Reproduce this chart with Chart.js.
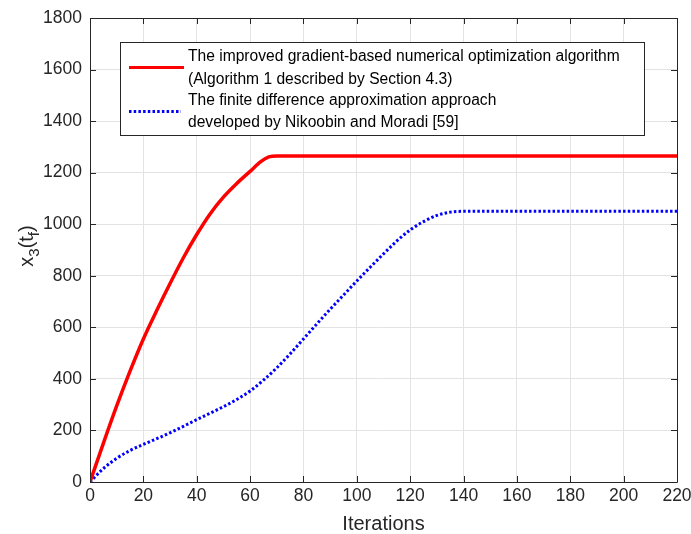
<!DOCTYPE html>
<html>
<head>
<meta charset="utf-8">
<script src="https://cdn.jsdelivr.net/npm/chart.js@4.4.1/dist/chart.umd.min.js"></script>
<style>
  body { margin: 0; background: #ffffff; }
  canvas { display: block; }
</style>
</head>
<body>
<canvas id="chart-1" width="691" height="534"></canvas>
<script>
// iterations and x3(tf) values
const gradIters = [0, 5, 10, 15, 20, 25, 30, 35, 40, 45, 50, 55, 60, 64, 67, 70, 100, 150, 220];
const gradValues = [0, 150, 295, 430, 555, 665, 770, 870, 960, 1040, 1105, 1158, 1205, 1243, 1261, 1265, 1265, 1265, 1265];

const fdIters = [0, 5, 10, 15, 20, 25, 30, 35, 40, 45, 50, 55, 60, 65, 70, 75, 80, 85, 90, 95, 100, 105, 110, 115, 120, 125, 130, 135, 140, 180, 220];
const fdValues = [0, 52, 92, 122, 146, 168, 191, 216, 242, 267, 292, 320, 353, 395, 443, 497, 555, 613, 670, 725, 780, 833, 885, 935, 978, 1010, 1034, 1047, 1050, 1050, 1050];

const xTicks = [0, 20, 40, 60, 80, 100, 120, 140, 160, 180, 200, 220];
const yTicks = [0, 200, 400, 600, 800, 1000, 1200, 1400, 1600, 1800];

const legendLines = [
  ["The improved gradient-based numerical optimization algorithm", "(Algorithm 1 described by Section 4.3)"],
  ["The finite difference approximation approach", "developed by Nikoobin and Moradi [59]"]
];

const axisColor = "#262626";
const fontFamily = "'Liberation Sans', Arial, sans-serif";

function toPoints(xs, ys) {
  return xs.map((x, i) => ({ x: x, y: ys[i] }));
}

// box around the axes, inward ticks, y label with subscripts, legend
const matlabBits = {
  id: "matlabBits",
  afterDraw(chart) {
    const ctx = chart.ctx;
    const a = chart.chartArea;
    const xs = chart.scales.x;
    const ys = chart.scales.y;
    ctx.save();
    ctx.strokeStyle = axisColor;
    ctx.lineWidth = 1;
    ctx.beginPath();
    ctx.rect(Math.round(a.left) + 0.5, Math.round(a.top) + 0.5, Math.round(a.right - a.left), Math.round(a.bottom - a.top));
    ctx.stroke();
    ctx.beginPath();
    xTicks.forEach(v => {
      const px = Math.round(xs.getPixelForValue(v)) + 0.5;
      ctx.moveTo(px, a.bottom); ctx.lineTo(px, a.bottom - 6);
      ctx.moveTo(px, a.top); ctx.lineTo(px, a.top + 6);
    });
    yTicks.forEach(v => {
      const py = Math.round(ys.getPixelForValue(v)) + 0.5;
      ctx.moveTo(a.left, py); ctx.lineTo(a.left + 6, py);
      ctx.moveTo(a.right, py); ctx.lineTo(a.right - 6, py);
    });
    ctx.stroke();

    // y label: x_3(t_f)
    ctx.translate(27, (a.top + a.bottom) / 2 - 4);
    ctx.rotate(-Math.PI / 2);
    ctx.fillStyle = axisColor;
    ctx.textBaseline = "alphabetic";
    const big = "20px " + fontFamily;
    const small = "15px " + fontFamily;
    const parts = [["x", big, 0], ["3", small, 6], ["(t", big, 0], ["f", small, 6], [")", big, 0]];
    let w = 0;
    parts.forEach(p => { ctx.font = p[1]; w += ctx.measureText(p[0]).width; });
    let cx = -w / 2;
    parts.forEach(p => {
      ctx.font = p[1];
      ctx.fillText(p[0], cx, 6 + p[2]);
      cx += ctx.measureText(p[0]).width;
    });
    ctx.restore();

    // legend
    ctx.save();
    const lx = 120.5, ly = 42.5, lw = 524, lh = 93;
    ctx.fillStyle = "#ffffff";
    ctx.fillRect(lx, ly, lw, lh);
    ctx.strokeStyle = axisColor;
    ctx.lineWidth = 1;
    ctx.strokeRect(lx, ly, lw, lh);
    ctx.font = "15.6px " + fontFamily;
    ctx.fillStyle = "#000000";
    ctx.textBaseline = "middle";
    const rows = [57, 80, 101, 123];
    ctx.fillText(legendLines[0][0], 188, rows[0]);
    ctx.fillText(legendLines[0][1], 188, rows[1]);
    ctx.fillText(legendLines[1][0], 188, rows[2]);
    ctx.fillText(legendLines[1][1], 188, rows[3]);
    ctx.lineWidth = 3;
    ctx.strokeStyle = "#ff0000";
    ctx.beginPath(); ctx.moveTo(129, 67.5); ctx.lineTo(184, 67.5); ctx.stroke();
    ctx.strokeStyle = "#0000ff";
    ctx.setLineDash([2.5, 2.2]);
    ctx.beginPath(); ctx.moveTo(129, 111.5); ctx.lineTo(181, 111.5); ctx.stroke();
    ctx.restore();
  }
};

new Chart("chart-1", {
  type: "line",
  data: {
    datasets: [{
      label: "gradient",
      data: toPoints(gradIters, gradValues),
      borderColor: "#ff0000",
      borderWidth: 3.5,
      pointRadius: 0,
      cubicInterpolationMode: "monotone",
      fill: false
    }, {
      label: "finite difference",
      data: toPoints(fdIters, fdValues),
      borderColor: "#0000ff",
      borderWidth: 3,
      borderDash: [2.5, 2.2],
      pointRadius: 0,
      cubicInterpolationMode: "monotone",
      fill: false
    }]
  },
  options: {
    responsive: false,
    animation: false,
    layout: { padding: { left: 0, right: 14, top: 18, bottom: -3 } },
    plugins: {
      legend: { display: false },
      tooltip: { enabled: false }
    },
    scales: {
      x: {
        type: "linear",
        min: 0,
        max: 220,
        afterFit: s => { s.height = 55; s.paddingLeft = 0; s.paddingRight = 0; },
        afterBuildTicks: s => { s.ticks = xTicks.map(v => ({ value: v })); },
        grid: { color: "#e3e3e3", drawTicks: false },
        border: { display: false },
        ticks: { color: axisColor, padding: 4, font: { family: fontFamily, size: 17.5 }, maxRotation: 0 },
        title: { display: true, text: "Iterations", color: axisColor, padding: { top: 0, bottom: 1 }, font: { family: fontFamily, size: 20 } }
      },
      y: {
        min: 0,
        max: 1800,
        afterFit: s => { s.width = 90; s.paddingTop = 0; s.paddingBottom = 0; },
        afterBuildTicks: s => { s.ticks = yTicks.map(v => ({ value: v })); },
        grid: { color: "#e3e3e3", drawTicks: false },
        border: { display: false },
        ticks: { color: axisColor, padding: 8, font: { family: fontFamily, size: 17.5 }, callback: v => String(v) }
      }
    }
  },
  plugins: [matlabBits]
});
</script>
</body>
</html>
